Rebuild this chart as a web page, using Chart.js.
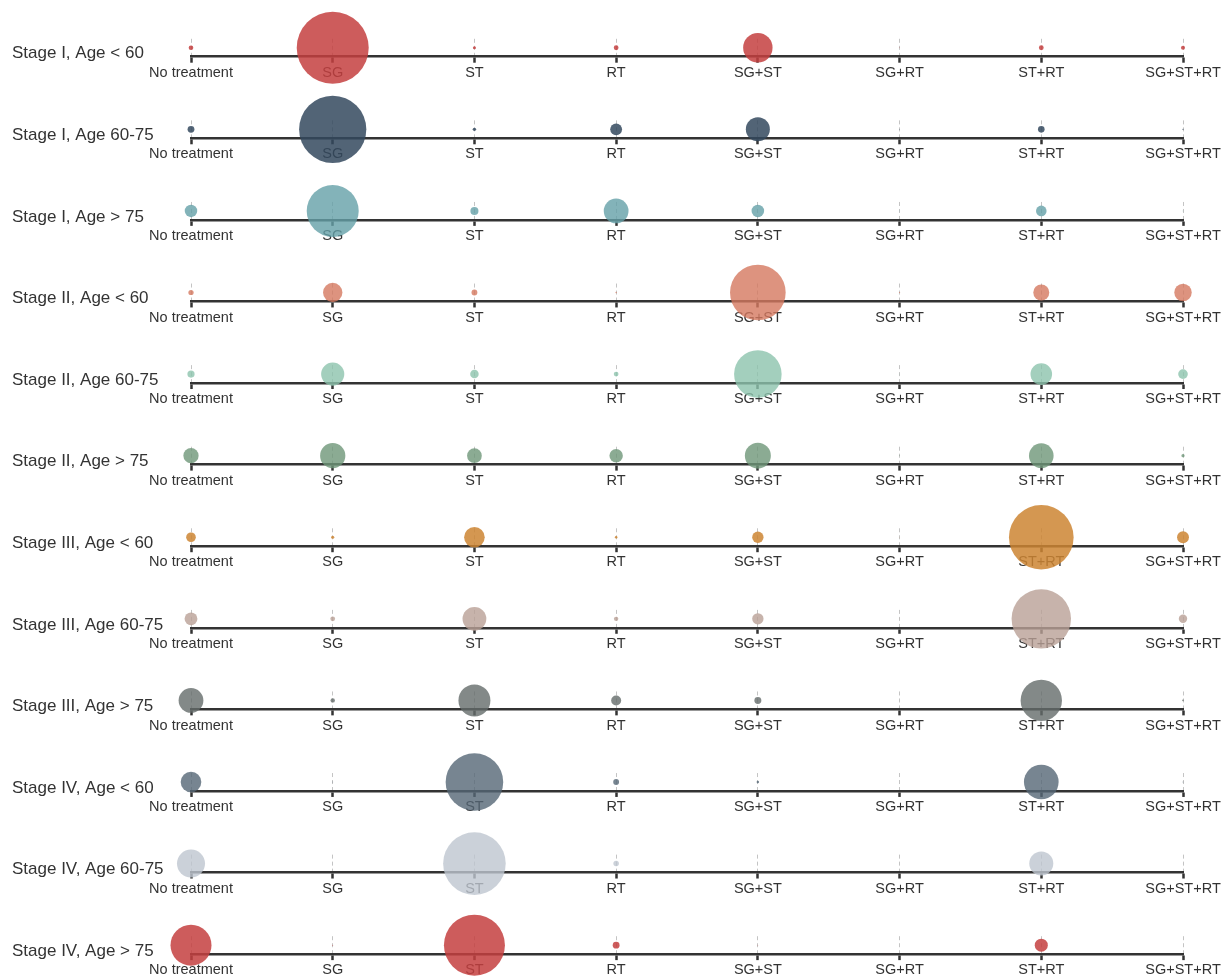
<!DOCTYPE html>
<html>
<head>
<meta charset="utf-8">
<script src="https://cdn.jsdelivr.net/npm/chart.js@4.4.1/dist/chart.umd.min.js"></script>
<style>
  html, body { margin: 0; padding: 0; background: #fff; overflow: hidden; }
  #rows { position: relative; width: 1225px; height: 979px; overflow: hidden; }
  #rows canvas { position: absolute; left: 0; }
</style>
</head>
<body>
<div id="rows"></div>
<script>
const treatments = ["No treatment", "SG", "ST", "RT", "SG+ST", "SG+RT", "ST+RT", "SG+ST+RT"];

const groupLabels = [
  "Stage I, Age < 60", "Stage I, Age 60-75", "Stage I, Age > 75",
  "Stage II, Age < 60", "Stage II, Age 60-75", "Stage II, Age > 75",
  "Stage III, Age < 60", "Stage III, Age 60-75", "Stage III, Age > 75",
  "Stage IV, Age < 60", "Stage IV, Age 60-75", "Stage IV, Age > 75",
];

// share of patients (%) per treatment, same order as treatments
const stageIUnder60 = [3.8, 59.0, 2.5, 3.9, 24.1, 0.6, 3.9, 3.3];
const stageI60to75 = [5.6, 55.1, 2.8, 9.7, 19.7, 0.6, 5.4, 1.0];
const stageIOver75 = [10.2, 42.6, 6.6, 20.3, 10.3, 0.5, 8.7, 0.5];
const stageIIUnder60 = [4.3, 15.9, 4.8, 1.1, 45.6, 1.0, 13.1, 14.3];
const stageII60to75 = [5.9, 19.0, 7.0, 3.9, 39.0, 0.5, 17.7, 7.9];
const stageIIOver75 = [12.5, 20.7, 12.1, 11.0, 21.3, 0.7, 20.2, 2.6];
const stageIIIUnder60 = [7.9, 2.6, 16.9, 2.1, 9.3, 0.3, 53.0, 9.8];
const stageIII60to75 = [10.5, 3.9, 19.5, 3.6, 9.3, 0.5, 48.7, 6.9];
const stageIIIOver75 = [20.3, 3.6, 26.2, 8.2, 5.7, 0.2, 33.9, 1.3];
const stageIVUnder60 = [16.9, 0.7, 47.2, 4.8, 2.0, 0.1, 28.4, 0.8];
const stageIV60to75 = [23.0, 0.5, 51.3, 4.5, 0.5, 0.3, 19.7, 0.3];
const stageIVOver75 = [33.6, 0.8, 50.0, 5.6, 0.5, 0.0, 10.7, 0.0];

const groupValues = [
  stageIUnder60, stageI60to75, stageIOver75,
  stageIIUnder60, stageII60to75, stageIIOver75,
  stageIIIUnder60, stageIII60to75, stageIIIOver75,
  stageIVUnder60, stageIV60to75, stageIVOver75,
];

const groupColors = [
  "rgba(196, 64, 64, 0.85)",
  "rgba(52, 73, 94, 0.85)",
  "rgba(100, 160, 168, 0.8)",
  "rgba(212, 120, 95, 0.8)",
  "rgba(140, 195, 172, 0.8)",
  "rgba(110, 150, 120, 0.8)",
  "rgba(205, 133, 50, 0.85)",
  "rgba(185, 160, 150, 0.8)",
  "rgba(100, 108, 106, 0.8)",
  "rgba(85, 102, 118, 0.8)",
  "rgba(190, 197, 207, 0.8)",
  "rgba(196, 64, 64, 0.85)",
];

const ROW_HEIGHT = 979 / 12;
const CANVAS_HEIGHT = 100;
const RADIUS_PER_PCT = 0.61;
const FONT = "'Liberation Sans', Arial, Helvetica, sans-serif";

function buildRow(index) {
  const rowTop = index * ROW_HEIGHT;
  const canvasTop = Math.floor(rowTop);
  const frac = rowTop - canvasTop;

  const canvas = document.createElement("canvas");
  canvas.width = 1225;
  canvas.height = CANVAS_HEIGHT;
  canvas.style.top = canvasTop + "px";
  document.getElementById("rows").appendChild(canvas);

  const label = groupLabels[index];

  return new Chart(canvas, {
    type: "bubble",
    data: {
      datasets: [{
        data: groupValues[index].map((v, i) => ({ x: treatments[i], y: label, r: v * RADIUS_PER_PCT })),
        backgroundColor: groupColors[index],
        borderWidth: 0,
        clip: false,
      }],
    },
    options: {
      responsive: false,
      animation: false,
      devicePixelRatio: 1,
      events: [],
      layout: {
        padding: { left: 12, right: 42, top: 38.8 + frac, bottom: 18.3 - frac },
      },
      plugins: {
        legend: { display: false },
        tooltip: { enabled: false },
      },
      scales: {
        x: {
          type: "category",
          labels: treatments,
          offset: false,
          grid: {
            color: "#c4c4c4",
            lineWidth: 1,
            tickColor: "#333",
            tickWidth: 2.5,
            tickLength: 6,
          },
          border: { color: "#333", width: 2.5, dash: [4, 3] },
          ticks: {
            autoSkip: false,
            maxRotation: 0,
            padding: 1.5,
            color: "#333",
            font: { family: FONT, size: 14.5 },
          },
          afterFit: (scale) => { scale.height = 25; },
        },
        y: {
          type: "category",
          labels: [label],
          offset: true,
          position: "left",
          grid: { display: false, drawTicks: false },
          border: { display: false },
          ticks: {
            crossAlign: "far",
            labelOffset: 6,
            padding: 0,
            color: "#333",
            font: { family: FONT, size: 17 },
          },
          afterFit: (scale) => { scale.width = 179; },
        },
      },
    },
  });
}

groupLabels.forEach((_, i) => buildRow(i));
</script>
</body>
</html>
